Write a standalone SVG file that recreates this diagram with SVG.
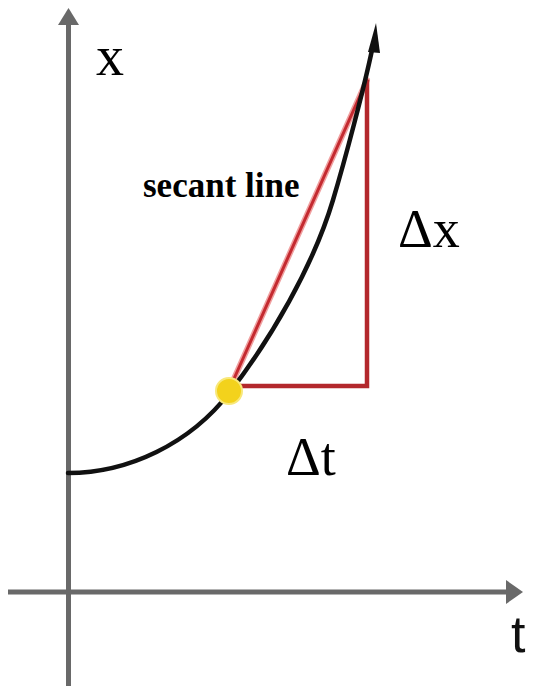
<svg xmlns="http://www.w3.org/2000/svg" width="544" height="686" viewBox="0 0 544 686">
<style>
.axis{stroke:#696969;stroke-width:5;fill:none}
.head{fill:#696969}
.curve{stroke:#111;stroke-width:4.5;fill:none;stroke-linecap:round}
.leg{stroke:#b3282c;stroke-width:4.5;fill:none}
.sec-glow{stroke:#f0a0a0;stroke-width:6;fill:none;stroke-linecap:round}
.sec{stroke:#c42a30;stroke-width:3;fill:none;stroke-linecap:round}
.serif{font-family:"Liberation Serif","Times New Roman",serif;fill:#000}
.sans{font-family:"Liberation Sans",Arial,sans-serif;fill:#111}
</style>
<rect width="544" height="686" fill="#ffffff"/>
<g id="axes">
  <line class="axis" x1="68.5" y1="22" x2="68.5" y2="686"/>
  <polygon class="head" points="68.5,8 58,25 79,25"/>
  <line class="axis" x1="8" y1="592" x2="510" y2="592"/>
  <polygon class="head" points="523,592 506,580 506,604"/>
</g>
<g id="connectors">
  <line class="sec-glow" x1="233" y1="381" x2="367" y2="80"/>
  <line class="sec" x1="233" y1="381" x2="367" y2="80"/>
  <polyline class="leg" points="240,386 367,386 367,80"/>
  <path class="curve" d="M68,473 C128,473 190,444 230,392 C270,340 313,267 333,200 C345,160 364,88 372,50"/>
  <polygon fill="#111" points="376,23 368,52 380,53"/>
</g>
<g id="point">
  <circle cx="229" cy="391" r="13" fill="#f3d21c" stroke="#f8e87a" stroke-width="2"/>
</g>
<g id="labels">
  <text class="serif" x="96" y="75" font-size="56">x</text>
  <text class="sans" x="511" y="652" font-size="52">t</text>
  <text class="serif" x="143" y="197" font-size="35" font-weight="bold" fill="#333">secant line</text>
  <text class="serif" x="398" y="247" font-size="54">Δx</text>
  <text class="serif" x="286" y="475" font-size="54">Δt</text>
</g>
</svg>
